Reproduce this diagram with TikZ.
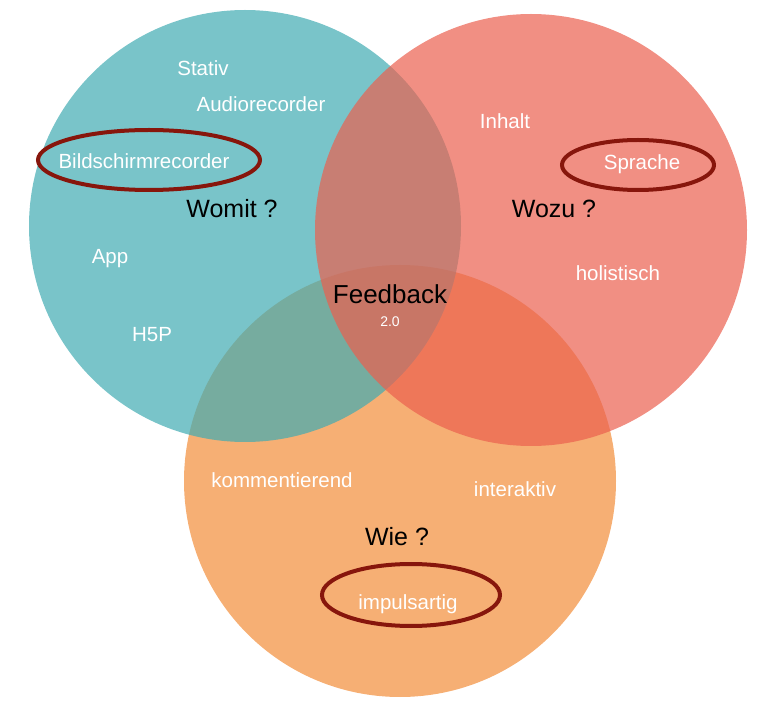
\documentclass[tikz,border=0pt]{standalone}
\usepackage{fontspec}
\setmainfont{Liberation Sans}
\usepackage{tikz}

\definecolor{womit}{RGB}{64,171,178}
\definecolor{wozu}{RGB}{235,96,79}
\definecolor{wie}{RGB}{242,141,57}
\definecolor{ring}{RGB}{135,22,12}

\begin{document}
\begin{tikzpicture}[x=1pt, y=-1pt,
  item/.style={anchor=base, text=white, font=\fontsize{20.5}{24}\selectfont},
  frage/.style={anchor=base, text=black, font=\fontsize{25}{30}\selectfont},
  kreis/.style={fill opacity=0.7},
  marke/.style={draw=ring, line width=4pt}]
\useasboundingbox (0,0) rectangle (769,708);

% the three sets
\fill[wie, kreis] (400,481) circle (216pt);
\fill[womit, kreis] (245,226) circle (216pt);
\fill[wozu, kreis] (531,230) circle (216pt);

% Womit ?
\node[item] (stativ) at (203,76) {Stativ};
\node[item] (audio) at (261,112) {Audiorecorder};
\node[item] (bildschirm) at (144,169) {Bildschirmrecorder};
\node[frage] (womitq) at (232,218) {Womit ?};
\node[item] (app) at (110,264) {App};
\node[item] (hfp) at (152,342) {H5P};

% Wozu ?
\node[item] (inhalt) at (505,129) {Inhalt};
\node[item] (sprache) at (642,170) {Sprache};
\node[frage] (wozuq) at (554,218) {Wozu ?};
\node[item] (holistisch) at (618,281) {holistisch};

% Wie ?
\node[item] (komm) at (282,488) {kommentierend};
\node[item] (interaktiv) at (515,497) {interaktiv};
\node[frage] (wieq) at (397,546) {Wie ?};
\node[item] (impuls) at (408,609) {impulsartig};

% centre
\node[anchor=base, font=\fontsize{26}{30}\selectfont] (feedback) at (390,304) {Feedback};
\node[anchor=base, text=white, font=\fontsize{14}{16}\selectfont] (version) at (390,327) {2.0};

% highlighted items
\draw[marke] (149,160) ellipse [x radius=111, y radius=30];
\draw[marke] (638,165) ellipse [x radius=76, y radius=25];
\draw[marke] (411,595) ellipse [x radius=89, y radius=31];
\end{tikzpicture}
\end{document}
